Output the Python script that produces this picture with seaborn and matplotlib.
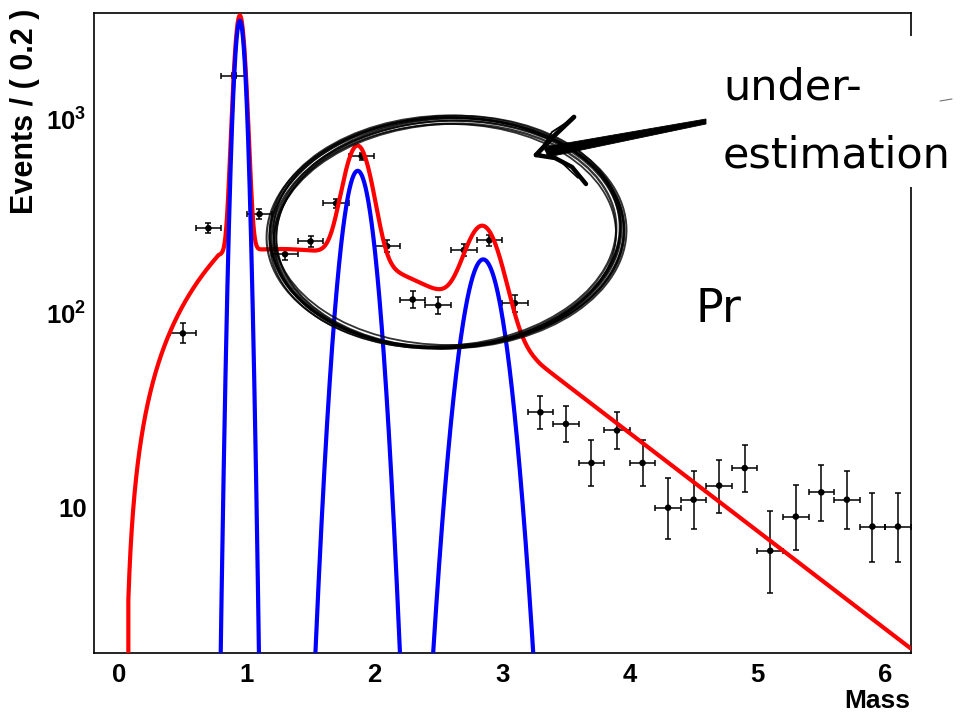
import math
import numpy as np
import pandas as pd
import matplotlib
matplotlib.use("Agg")
import matplotlib.pyplot as plt
import seaborn as sns
from matplotlib.patches import Ellipse, Rectangle, Polygon
from matplotlib.ticker import FixedLocator, FixedFormatter, NullFormatter

# ---- binned data (bin width 0.2) ----
bin_centers = [0.5, 0.7, 0.9, 1.1, 1.3, 1.5, 1.7, 1.9, 2.1, 2.3, 2.5, 2.7, 2.9, 3.1,
               3.3, 3.5, 3.7, 3.9, 4.1, 4.3, 4.5, 4.7, 4.9, 5.1, 5.3, 5.5, 5.7, 5.9, 6.1]
event_counts = [79, 275, 1680, 325, 202, 235, 369, 645, 222, 118, 110, 212, 238, 113,
                31, 27, 17, 25, 17, 10, 11, 13, 16, 6, 9, 12, 11, 8, 8]
bin_width = 0.2

# ---- fitted model parameters ----
peak_means = [0.946, 1.869, 2.852]
peak_sigmas = [0.0387, 0.0979, 0.1283]
peak_heights = [3220.0, 543.0, 190.0]

bkg_start = 0.073          # lower edge of the fit range
bkg_threshold = 0.045      # turn-on threshold
bkg_turnon_power = 1.25
bkg_knee = 0.78
bkg_shoulder_height = 215.0
bkg_shoulder_center = 1.25
bkg_shoulder_width = 1.75
bkg_tail_start = 3.3
bkg_tail_slope = 1.16

# ---- axis setup ----
x_range = (-0.2, 6.2)
y_range = (1.78, 3515.0)
x_tick_values = [0, 1, 2, 3, 4, 5, 6]
x_tick_labels = ["0", "1", "2", "3", "4", "5", "6"]
y_tick_values = [10, 100, 1000]
y_tick_labels = ["10", r"$\mathbf{10^{2}}$", r"$\mathbf{10^{3}}$"]


def poisson_interval(n, cl=0.682689):
    """Central frequentist Poisson interval (lower, upper) for n observed counts."""
    alpha = (1.0 - cl) / 2.0
    log_fact = np.concatenate([[0.0], np.cumsum(np.log(np.arange(1, n + 1)))])

    def cdf(k_max, mu):
        k = np.arange(k_max + 1)
        logs = k * math.log(mu) - mu - log_fact[: k_max + 1]
        m = logs.max()
        return math.exp(m) * np.exp(logs - m).sum()

    lo_b, hi_b = float(n), n + 10.0 * math.sqrt(n + 1) + 10.0
    for _ in range(80):
        mid = 0.5 * (lo_b + hi_b)
        if cdf(n, mid) > alpha:
            lo_b = mid
        else:
            hi_b = mid
    upper = 0.5 * (lo_b + hi_b)
    if n == 0:
        return 0.0, upper
    lo_b, hi_b = 1e-9, float(n)
    for _ in range(80):
        mid = 0.5 * (lo_b + hi_b)
        if cdf(n - 1, mid) > 1.0 - alpha:
            lo_b = mid
        else:
            hi_b = mid
    lower = 0.5 * (lo_b + hi_b)
    return lower, upper


def signal(x):
    total = np.zeros_like(x)
    for m, s, h in zip(peak_means, peak_sigmas, peak_heights):
        total += h * np.exp(-0.5 * ((x - m) / s) ** 2)
    return total


def shoulder(x):
    return bkg_shoulder_height * np.exp(-((x - bkg_shoulder_center) / bkg_shoulder_width) ** 2)


def background(x):
    knee_val = shoulder(bkg_knee)
    tail_val = shoulder(bkg_tail_start)
    turn_on = knee_val * (np.clip(x - bkg_threshold, 0, None) / (bkg_knee - bkg_threshold)) ** bkg_turnon_power
    tail = tail_val * np.exp(-bkg_tail_slope * (x - bkg_tail_start))
    return np.where(x < bkg_knee, turn_on, np.where(x < bkg_tail_start, shoulder(x), tail))


# ---- figure ----
sns.set_theme(style="white")
plt.rcParams["font.family"] = ["Liberation Sans", "DejaVu Sans"]
plt.rcParams["mathtext.fontset"] = "custom"
plt.rcParams["mathtext.rm"] = "Liberation Sans"
plt.rcParams["mathtext.bf"] = "Liberation Sans:bold"

fig = plt.figure(figsize=(9.6, 7.17), dpi=100)
W, H = 960.0, 717.0
ax = fig.add_axes([93.5 / W, 1 - 653.3 / H, (910.7 - 93.5) / W, (653.3 - 13.3) / H])
ax.set_facecolor("white")

# data points with Poisson errors
intervals = [poisson_interval(n) for n in event_counts]
err_lo = [n - lo for n, (lo, hi) in zip(event_counts, intervals)]
err_hi = [hi - n for n, (lo, hi) in zip(event_counts, intervals)]
ax.errorbar(bin_centers, event_counts, xerr=bin_width / 2, yerr=[err_lo, err_hi],
            fmt="none", ecolor="black", elinewidth=1.1, capsize=2.2, capthick=1.1, zorder=2)
data_df = pd.DataFrame({"Mass": bin_centers, "Events": event_counts})
sns.scatterplot(data=data_df, x="Mass", y="Events", color="black", s=22,
                edgecolor="none", ax=ax, zorder=3, legend=False)

# total fit (signal + background) and signal component
x_tot = np.linspace(bkg_start, x_range[1], 3000)
y_tot = background(x_tot) + signal(x_tot)
x_tot = np.concatenate([[bkg_start], x_tot])
y_tot = np.concatenate([[1e-3], y_tot])
total_df = pd.DataFrame({"Mass": x_tot, "Events": np.maximum(y_tot, 1e-3)})
sns.lineplot(data=total_df, x="Mass", y="Events", color="#ff0000", linewidth=3.0,
             sort=False, estimator=None, ax=ax, zorder=4, legend=False)

x_sig = np.linspace(x_range[0], x_range[1], 4000)
sig_df = pd.DataFrame({"Mass": x_sig, "Events": np.maximum(signal(x_sig), 1e-3)})
sns.lineplot(data=sig_df, x="Mass", y="Events", color="#0000ff", linewidth=3.0,
             sort=False, estimator=None, ax=ax, zorder=5, legend=False)

ax.set_yscale("log")
ax.set_xlim(*x_range)
ax.set_ylim(*y_range)

# axes styling
for side in ["left", "bottom", "top", "right"]:
    ax.spines[side].set_visible(True)
    ax.spines[side].set_color("black")
    ax.spines[side].set_linewidth(1.2)

ax.xaxis.set_major_locator(FixedLocator(x_tick_values))
ax.xaxis.set_major_formatter(FixedFormatter(x_tick_labels))
ax.xaxis.set_minor_locator(FixedLocator(np.arange(-0.2, 6.21, 0.2)))
ax.yaxis.set_major_locator(FixedLocator(y_tick_values))
ax.yaxis.set_major_formatter(FixedFormatter(y_tick_labels))
minor_y = [m * d for d in (1, 10, 100, 1000) for m in range(2, 10) if y_range[0] <= m * d <= y_range[1]]
ax.yaxis.set_minor_locator(FixedLocator(minor_y))
ax.yaxis.set_minor_formatter(NullFormatter())

ax.tick_params(axis="both", which="both", direction="in", top=False, right=False,
               width=1.2, color="black", labelcolor="black")
ax.tick_params(axis="x", which="major", length=13.7, pad=7, labelsize=18.5)
ax.tick_params(axis="x", which="minor", length=7)
ax.tick_params(axis="y", which="major", length=16.5, pad=5, labelsize=18.5)
ax.tick_params(axis="y", which="minor", length=8.6)
for lab in ax.get_xticklabels() + ax.get_yticklabels():
    lab.set_fontweight("bold")

ax.set_xlabel("Mass", loc="right", fontsize=19, fontweight="bold", color="black")
ax.xaxis.set_label_coords(1.0, -0.055)
ax.set_ylabel("Events / ( 0.2 )", loc="top", fontsize=22, fontweight="bold", color="black")
ax.yaxis.set_label_coords(-0.0655, 1.008)

# ---- hand-drawn annotation layer (pixel coordinates) ----
ov = fig.add_axes([0, 0, 1, 1], zorder=10)
ov.set_xlim(0, W)
ov.set_ylim(H, 0)
ov.axis("off")
ov.patch.set_alpha(0)

# loose pen strokes forming the ring around the bump region
ellipse_strokes = [
    (447, 233, 354, 230, -2.0, 1.8),
    (446, 234, 349, 226, -3.0, 1.5),
    (448, 232, 357, 233, -1.0, 1.4),
    (445, 235, 343, 222, -4.0, 1.7),
    (449, 231, 351, 228, 0.0, 1.3),
    (444, 233, 355, 231, -2.5, 1.5),
    (446, 236, 340, 224, -1.5, 1.3),
    (447, 233, 346, 229, -3.5, 1.6),
    (450, 234, 347, 227, -2.0, 1.2),
    (445, 232, 352, 232, -4.5, 1.2),
]
for cx, cy, w, h, ang, lw in ellipse_strokes:
    ov.add_patch(Ellipse((cx, cy), w, h, angle=ang, fill=False, edgecolor="black",
                         linewidth=lw, alpha=0.8))

# arrow shaft (tapered brush stroke) and head
ov.add_patch(Polygon([(706, 119), (706, 124), (548, 157), (544, 147)], closed=True,
                     facecolor="black", edgecolor="black", linewidth=0.6))
ov.plot([705, 545], [121, 150], color="black", linewidth=1.0)
ov.plot([536, 555, 574], [155, 135, 117], color="black", linewidth=3.4, solid_capstyle="round")
ov.plot([538, 552, 572], [154, 132, 119], color="black", linewidth=1.3)
ov.plot([536, 555, 572, 586], [155, 158, 167, 184], color="black", linewidth=3.2, solid_capstyle="round")
ov.plot([537, 560, 578], [153, 161, 178], color="black", linewidth=1.1)
ov.plot([520, 546], [127, 138], color="black", linewidth=0.8)

# white label box over the frame corner
ov.add_patch(Rectangle((713, 36), 247, 151, facecolor="white", edgecolor="none"))
ov.plot([940, 952], [101, 99], color="0.45", linewidth=0.8)
ov.text(723, 100, "under-", fontsize=31, family="DejaVu Sans", color="black",
        ha="left", va="baseline")
ov.text(723, 167, "estimation", fontsize=31, family="DejaVu Sans", color="black",
        ha="left", va="baseline")
ov.text(695, 321.5, "Pr", fontsize=33, family="DejaVu Sans", color="black",
        ha="left", va="baseline")

fig.savefig("out.png", dpi=100, facecolor="white")
